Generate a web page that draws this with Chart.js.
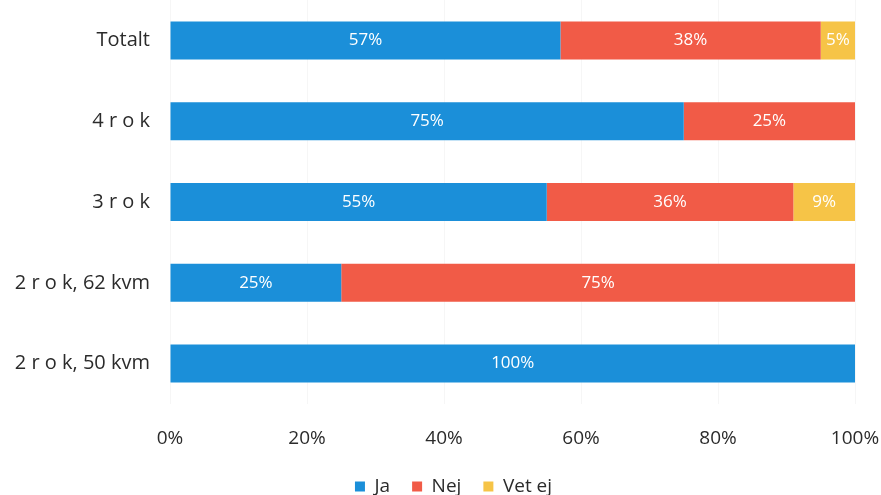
<!DOCTYPE html>
<html>
<head>
<meta charset="utf-8">
<script src="https://cdn.jsdelivr.net/npm/chart.js@4/dist/chart.umd.min.js"></script>
<style>
  html, body { margin: 0; padding: 0; background: #fff; }
  #wrap { width: 881px; height: 495px; }
</style>
</head>
<body>
<div id="wrap"><canvas id="chart" width="881" height="495"></canvas></div>
<script>
// categories and series
var categories = ['Totalt', '4 r o k', '3 r o k', '2 r o k, 62 kvm', '2 r o k, 50 kvm'];
var ja    = [57, 75, 55, 25, 100];
var nej   = [38, 25, 36, 75, 0];
var vetEj = [5, 0, 9, 0, 0];
var xTicks = [0, 20, 40, 60, 80, 100];

// white percentage text in the middle of each segment
var segmentLabels = {
  id: 'segmentLabels',
  afterDatasetsDraw: function (chart) {
    var ctx = chart.ctx;
    ctx.save();
    ctx.fillStyle = '#ffffff';
    ctx.font = '17px "Open Sans"';
    ctx.textAlign = 'center';
    ctx.textBaseline = 'middle';
    chart.data.datasets.forEach(function (ds, i) {
      chart.getDatasetMeta(i).data.forEach(function (bar, j) {
        var v = ds.data[j];
        if (!v) return;
        var left = Math.min(bar.x, bar.base);
        var right = Math.max(bar.x, bar.base);
        ctx.fillText(v + '%', (left + right) / 2, bar.y);
      });
    });
    ctx.restore();
  }
};

// legend sits a bit right of the canvas centre in the original
var legendShift = {
  id: 'legendShift',
  afterLayout: function (chart) {
    chart.legend.left += 26;
    chart.legend.right += 26;
  }
};

// tick padding should not eat into the plot edges
function noEdgePadding(scale) {
  scale.paddingTop = 0;
  scale.paddingBottom = 0;
  scale.paddingLeft = 0;
  scale.paddingRight = 0;
}

var ctx = document.getElementById('chart').getContext('2d');
var chart = new Chart(ctx, {
  type: 'bar',
  data: {
    labels: categories,
    datasets: [
      { label: 'Ja', data: ja, backgroundColor: '#1b8fd9' },
      { label: 'Nej', data: nej, backgroundColor: '#f15b47' },
      { label: 'Vet ej', data: vetEj, backgroundColor: '#f6c447' }
    ]
  },
  options: {
    indexAxis: 'y',
    responsive: false,
    animation: false,
    layout: { padding: { top: 0, right: 26, bottom: -11, left: 0 } },
    datasets: { bar: { categoryPercentage: 1, barPercentage: 0.47 } },
    scales: {
      x: {
        stacked: true,
        min: 0,
        max: 100,
        afterBuildTicks: function (scale) {
          scale.ticks = xTicks.map(function (v) { return { value: v }; });
        },
        afterFit: function (scale) { scale.height = 51; noEdgePadding(scale); },
        grid: { color: 'rgba(0,0,0,0.035)', drawTicks: false },
        border: { display: false },
        ticks: {
          padding: 23,
          color: '#2b2b2b',
          font: { family: 'Open Sans', size: 19 },
          callback: function (v) { return v + '%'; }
        }
      },
      y: {
        stacked: true,
        grid: { display: false },
        border: { display: false },
        afterFit: function (scale) { scale.width = 170; noEdgePadding(scale); },
        ticks: {
          padding: 12,
          color: '#2b2b2b',
          font: { family: 'Open Sans', size: 20 }
        }
      }
    },
    plugins: {
      legend: {
        position: 'bottom',
        labels: {
          boxWidth: 10,
          boxHeight: 10,
          padding: 22,
          color: '#2b2b2b',
          font: { family: 'Open Sans', size: 19 }
        }
      },
      tooltip: { enabled: false }
    }
  },
  plugins: [segmentLabels, legendShift]
});
</script>
</body>
</html>
